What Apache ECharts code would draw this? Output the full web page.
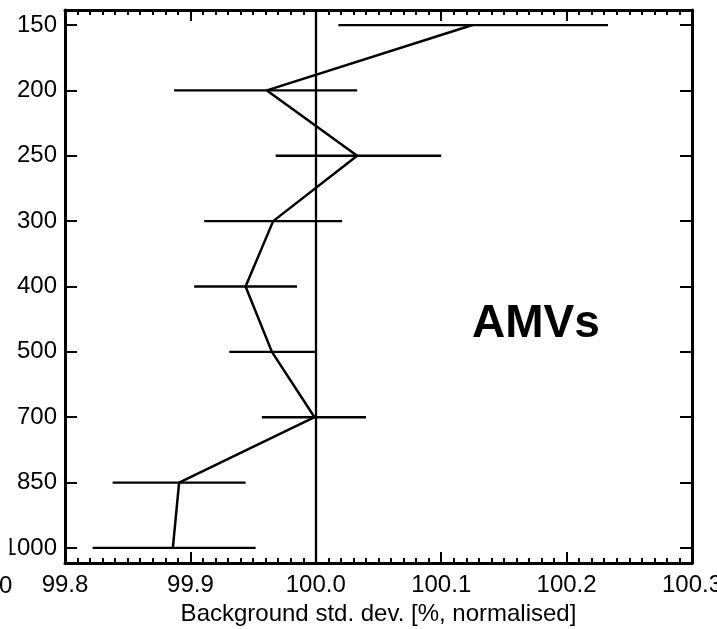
<!DOCTYPE html>
<html>
<head>
<meta charset="utf-8">
<script src="https://cdn.jsdelivr.net/npm/echarts@6/dist/echarts.min.js"></script>
<style>
html,body{margin:0;padding:0;background:#fff;}
#chart{width:717px;height:629px;}
</style>
</head>
<body>
<div id="chart"></div>
<script>
// Pressure levels (hPa), top to bottom
const levels = ['150', '200', '250', '300', '400', '500', '700', '850', '1000'];
// Normalised background std. dev. [%]
const meanValues = [100.125, 99.961, 100.033, 99.966, 99.944, 99.965, 99.999, 99.891, 99.886];
const lowerValues = [100.018, 99.887, 99.968, 99.911, 99.903, 99.931, 99.957, 99.838, 99.822];
const upperValues = [100.233, 100.033, 100.100, 100.021, 99.985, 100.000, 100.040, 99.944, 99.952];
const xTickLabels = ['99.8', '99.9', '100.0', '100.1', '100.2', '100.3'];
const referenceValue = 100.0;

const chart = echarts.init(document.getElementById('chart'), null, {renderer: 'canvas'});
const FONT = 'Liberation Sans';
const levelIdx = levels.map((_, i) => i);

const xCommon = {
  type: 'value', min: 99.8, max: 100.3, interval: 0.1,
  axisLine: {show: true, onZero: false, lineStyle: {color: '#000', width: 3}},
  axisTick: {show: true, inside: true, length: 11, lineStyle: {color: '#000', width: 2}},
  minorTick: {show: true, splitNumber: 10, length: 5, lineStyle: {color: '#000', width: 2}},
  splitLine: {show: false}
};
const yCommon = {
  type: 'value', inverse: true, min: -0.23, max: 8.23,
  axisLine: {show: true, onZero: false, lineStyle: {color: '#000', width: 3}},
  axisTick: {show: true, inside: true, length: 12, customValues: levelIdx, lineStyle: {color: '#000', width: 2}},
  splitLine: {show: false}
};

chart.setOption({
  animation: false,
  backgroundColor: '#fff',
  grid: {left: 65, top: 10, right: 25, bottom: 66, containLabel: false, outerBoundsMode: 'none'},
  xAxis: [
    Object.assign({}, xCommon, {
      position: 'bottom',
      axisLabel: {show: true, color: '#000', fontFamily: FONT, fontSize: 24, margin: 10,
        formatter: v => { const s = v.toFixed(1); return xTickLabels.includes(s) ? s : ''; }},
      name: 'Background std. dev. [%, normalised]',
      nameLocation: 'middle', nameGap: 38,
      nameTextStyle: {color: '#000', fontFamily: FONT, fontSize: 24}
    }),
    Object.assign({}, xCommon, {position: 'top', axisLabel: {show: false}})
  ],
  yAxis: [
    Object.assign({}, yCommon, {
      position: 'left',
      axisLabel: {show: true, color: '#000', fontFamily: FONT, fontSize: 24, margin: 8,
        customValues: levelIdx, formatter: v => levels[Math.round(v)]}
    }),
    Object.assign({}, yCommon, {position: 'right', axisLabel: {show: false}})
  ],
  graphic: [
    {type: 'text', left: 472, top: 301, style: {text: 'AMVs', font: 'bold 46px "Liberation Sans"', fill: '#000'}},
    {type: 'rect', z: 100, shape: {x: 0, y: 532, width: 9.5, height: 30}, style: {fill: '#fff'}},
    {type: 'text', z: 101, x: -1, y: 574, style: {text: '0', font: '24px "Liberation Sans"', fill: '#000'}}
  ],
  series: [
    {
      type: 'custom',
      xAxisIndex: 0, yAxisIndex: 0,
      data: levels.map((_, i) => [lowerValues[i], upperValues[i], i]),
      encode: {x: [0, 1], y: 2},
      renderItem: function (params, api) {
        const p1 = api.coord([api.value(0), api.value(2)]);
        const p2 = api.coord([api.value(1), api.value(2)]);
        return {type: 'line', shape: {x1: p1[0], y1: p1[1], x2: p2[0], y2: p2[1]},
          style: {stroke: '#000', lineWidth: 2.3}};
      },
      silent: true, z: 3
    },
    {
      type: 'line',
      xAxisIndex: 0, yAxisIndex: 0,
      data: meanValues.map((v, i) => [v, i]),
      symbol: 'none',
      lineStyle: {color: '#000', width: 2.5},
      silent: true, z: 4,
      markLine: {
        silent: true, symbol: 'none', label: {show: false},
        lineStyle: {color: '#000', width: 2.3, type: 'solid'},
        data: [{xAxis: referenceValue}]
      }
    }
  ]
});
</script>
</body>
</html>
